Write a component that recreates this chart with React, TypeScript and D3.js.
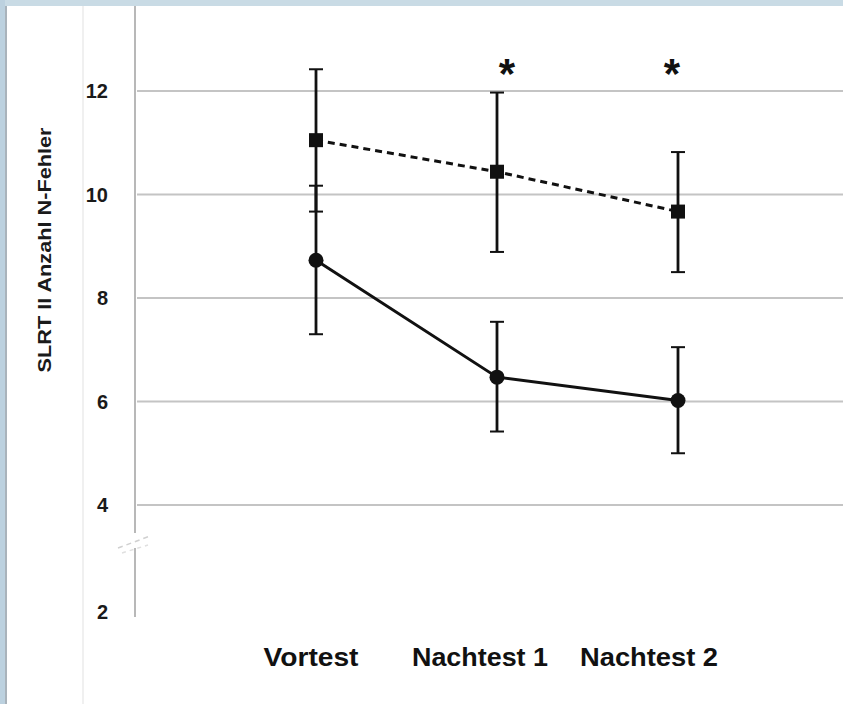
import React from "react";
import * as d3 from "d3";

const categories = ["Vortest", "Nachtest 1", "Nachtest 2"];
const dashedMean = [11.05, 10.44, 9.67];
const dashedUpper = [12.42, 11.97, 10.82];
const dashedLower = [9.67, 8.89, 8.5];
const solidMean = [8.73, 6.47, 6.02];
const solidUpper = [10.17, 7.54, 7.05];
const solidLower = [7.3, 5.42, 5.0];
const yTicks = [2, 4, 6, 8, 10, 12];
const gridTicks = [4, 6, 8, 10, 12];
const significant = [false, true, true];
const yLabel = "SLRT II Anzahl N-Fehler";
const xLabelWidths = [95, 136, 138];

const W = 843;
const H = 704;

export default function App() {
  const y = d3.scaleLinear().domain([4, 12]).range([505, 91]);
  const x = d3.scalePoint<string>().domain(categories).range([316, 678]);
  const xLab = d3.scalePoint<string>().domain(categories).range([311, 649]);
  const line = d3
    .line<number>()
    .x((_, i) => x(categories[i]) as number)
    .y((d) => y(d));
  const font = "'Liberation Sans', Arial, sans-serif";
  const cap = 7;

  const series = [
    { mean: dashedMean, up: dashedUpper, lo: dashedLower, dash: "7,5", marker: "square" },
    { mean: solidMean, up: solidUpper, lo: solidLower, dash: undefined, marker: "circle" },
  ];

  return (
    <svg
      width={W}
      height={H}
      style={{ position: "absolute", left: 0, top: 0, display: "block" }}
    >
      <rect x={0} y={0} width={W} height={H} fill="#ffffff" />
      <rect x={0} y={0} width={W} height={6} fill="#c9dbe5" />
      <rect x={0} y={0} width={5} height={H} fill="#bcd1df" />
      <rect x={5} y={6} width={2} height={H - 6} fill="#a9b3bb" />
      <line x1={83} x2={83} y1={6} y2={H} stroke="#f0f0f0" strokeWidth={2} />

      {gridTicks.map((t) => (
        <line
          key={t}
          x1={137}
          x2={W}
          y1={y(t)}
          y2={y(t)}
          stroke="#c4c4c4"
          strokeWidth={2}
        />
      ))}

      {/* axis line with break */}
      <line x1={135} x2={135} y1={6} y2={533} stroke="#b8b8b8" strokeWidth={2} />
      <line x1={135} x2={135} y1={548} y2={617} stroke="#b8b8b8" strokeWidth={2} />
      <line x1={118} x2={150} y1={548} y2={536} stroke="#d0d0d0" strokeWidth={1.5} strokeDasharray="5,4" />
      <line x1={122} x2={148} y1={553} y2={545} stroke="#e0e0e0" strokeWidth={1.5} strokeDasharray="4,4" />

      {yTicks.map((t) => (
        <text
          key={t}
          x={108}
          y={t === 2 ? 612 : y(t)}
          dy="0.35em"
          textAnchor="end"
          fontFamily={font}
          fontWeight="bold"
          fontSize={20}
          fill="#1a1a1a"
        >
          {t}
        </text>
      ))}

      <text
        transform={`translate(51,250) rotate(-90)`}
        textAnchor="middle"
        fontFamily={font}
        fontWeight="bold"
        fontSize={19}
        textLength={245}
        lengthAdjust="spacingAndGlyphs"
        fill="#1a1a1a"
      >
        {yLabel}
      </text>

      {categories.map((c, i) => (
        <text
          key={c}
          x={xLab(c)}
          y={666}
          textAnchor="middle"
          fontFamily={font}
          fontWeight="bold"
          fontSize={25}
          textLength={xLabelWidths[i]}
          lengthAdjust="spacingAndGlyphs"
          fill="#111"
        >
          {c}
        </text>
      ))}

      {series.map((s, si) => (
        <g key={si}>
          {categories.map((c, i) => {
            const cx = x(c) as number;
            return (
              <g key={c} stroke="#111" strokeWidth={2.8}>
                <line x1={cx} x2={cx} y1={y(s.up[i])} y2={y(s.lo[i])} />
                <line x1={cx - cap} x2={cx + cap} y1={y(s.up[i])} y2={y(s.up[i])} strokeWidth={2} />
                <line x1={cx - cap} x2={cx + cap} y1={y(s.lo[i])} y2={y(s.lo[i])} strokeWidth={2} />
              </g>
            );
          })}
          <path
            d={line(s.mean) || ""}
            fill="none"
            stroke="#111"
            strokeWidth={3}
            strokeDasharray={s.dash}
          />
          {categories.map((c, i) => {
            const cx = x(c) as number;
            const cy = y(s.mean[i]);
            return s.marker === "square" ? (
              <rect key={c} x={cx - 7} y={cy - 7} width={14} height={14} fill="#111" />
            ) : (
              <circle key={c} cx={cx} cy={cy} r={7.5} fill="#111" />
            );
          })}
        </g>
      ))}

      {categories.map((c, i) =>
        significant[i] ? (
          <text
            key={c}
            x={(x(c) as number) + (i === 1 ? 10 : -6)}
            y={88}
            textAnchor="middle"
            fontFamily={font}
            fontWeight="bold"
            fontSize={42}
            fill="#111"
          >
            *
          </text>
        ) : null
      )}
    </svg>
  );
}
